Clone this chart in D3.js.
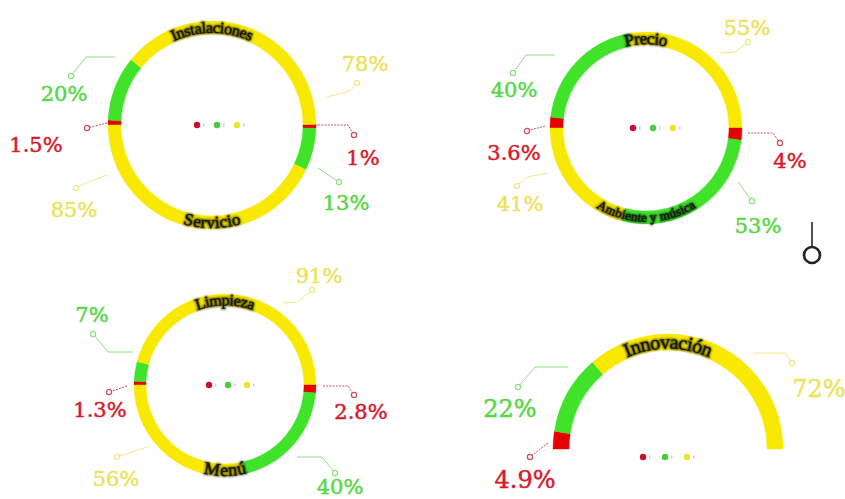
<!DOCTYPE html>
<html>
<head>
<meta charset="utf-8">
<script src="https://cdn.jsdelivr.net/npm/d3@7"></script>
<style>
  html, body { margin: 0; padding: 0; background: #ffffff; }
  svg { display: block; }
</style>
</head>
<body>
<svg id="chart" width="845" height="499"></svg>
<script>
// Aspectos evaluados y reparto de opiniones (%) por color
const aspectos = ["Instalaciones", "Servicio", "Precio", "Ambiente y música", "Limpieza", "Menú", "Innovación"];
const rojo     = [1.5, 1, 3.6, 4, 1.3, 2.8, 4.9];
const verde    = [20, 13, 40, 53, 7, 40, 22];
const amarillo = [78, 85, 55, 41, 91, 56, 72];
const series   = ["rojo", "verde", "amarillo"];

const ringColor   = { rojo: "#e60000", verde: "#40e22a", amarillo: "#f9e800" };
const labelColor  = { rojo: "#d81b2b", verde: "#57d846", amarillo: "#eee25c" };
const leaderColor = { rojo: "#d0505a", verde: "#90e082", amarillo: "#f0e88a" };
const legendColor = { rojo: "#c8102e", verde: "#46cc3e", amarillo: "#ece42c" };

// Each panel: a ring split in two half-gauges (top / bottom aspect)
const panels = [
  { cx: 212, cy: 125, r: 104, w: 13, top: 0, bottom: 1, legend: [-15, 0, 20] },
  { cx: 646, cy: 128, r: 96,  w: 13, top: 2, bottom: 3, legend: [-13, 0, 20] },
  { cx: 225, cy: 385, r: 91,  w: 12, top: 4, bottom: 5, legend: [-16, 0, 19] },
  { cx: 668, cy: 449, r: 115, w: 16, top: 6, bottom: null, legend: [-25, 8, 22] }
];

// Font size of the name written along each half ring
const nameSize = [16, 17, 17, 13, 16, 18, 20];
const pctSize  = [21, 21, 21, 21, 21, 21, 24];

// Leader layout per aspect, order rojo / verde / amarillo (offsets from ring centre)
const leaders = [
  [ { s: [-105, -2], m: [-125, 3], t: [-176, 27] },
    { s: [-97, -68], e: [-126, -68], m: [-141, -49], t: [-148, -24] },
    { s: [115, -28], e: [138, -34], m: [145, -42], t: [153, -54] } ],
  [ { s: [103, 0], e: [136, 0], m: [142, 10], t: [151, 40] },
    { s: [106, 43], m: [127, 57], t: [134, 85] },
    { s: [-105, 50], e: [-124, 57], m: [-136, 63], t: [-138, 92] } ],
  [ { s: [-101, -2], m: [-119, 3], t: [-132, 32] },
    { s: [-91, -73], e: [-120, -73], m: [-133, -55], t: [-132, -31] },
    { s: [74, -75], e: [89, -76], m: [102, -86], t: [101, -93] } ],
  [ { s: [102, 5], e: [127, 5], m: [134, 15], t: [144, 40] },
    { s: [92, 54], m: [106, 73], t: [112, 105] },
    { s: [-98, 45], e: [-119, 49], m: [-129, 58], t: [-126, 83] } ],
  [ { s: [-98, 1], m: [-116, 7], t: [-125, 32] },
    { s: [-92, -33], e: [-117, -33], m: [-132, -51], t: [-133, -63] },
    { s: [58, -82], e: [72, -83], m: [87, -95], t: [94, -102] } ],
  [ { s: [98, 1], e: [123, 1], m: [129, 10], t: [136, 34] },
    { s: [72, 72], e: [97, 72], m: [110, 88], t: [115, 109] },
    { s: [-78, 62], m: [-108, 72], t: [-109, 101] } ],
  [ { s: [-120, -6], m: [-138, 8], t: [-143, 39] },
    { s: [-100, -82], e: [-133, -82], m: [-150, -62], t: [-158, -32] },
    { s: [85, -96], e: [117, -96], m: [124, -86], t: [151, -52] } ]
];

const svg = d3.select("#chart");

const defs = svg.append("defs");
defs.append("filter").attr("id", "sombra")
  .attr("x", "-20%").attr("y", "-50%").attr("width", "140%").attr("height", "200%")
  .append("feGaussianBlur").attr("stdDeviation", 1.3);

const valuesOf = i => series.map((k, j) => ({ key: k, value: [rojo, verde, amarillo][j][i] }));

function drawHalf(g, p, idx, half) {
  const start = half === "top" ? -Math.PI / 2 : Math.PI / 2;
  const pie = d3.pie().sort(null).value(d => d.value)
    .startAngle(start).endAngle(start + Math.PI);
  const arc = d3.arc().innerRadius(p.r - p.w).outerRadius(p.r);
  const slices = pie(valuesOf(idx));

  g.selectAll(null).data(slices).enter().append("path")
    .attr("d", arc)
    .attr("fill", d => ringColor[d.data.key])
    .attr("stroke", d => ringColor[d.data.key])
    .attr("stroke-width", 0.4);

  // name along the middle of the ring
  const rm = p.r - p.w / 2;
  const pid = "camino-" + idx;
  const pathD = half === "top"
    ? `M ${-rm} 0 A ${rm} ${rm} 0 0 1 ${rm} 0`
    : `M ${-rm} 0 A ${rm} ${rm} 0 0 0 ${rm} 0`;
  g.append("path").attr("id", pid).attr("d", pathD).attr("fill", "none");

  const name = g.append("g")
    .style("font-family", "'Liberation Serif', 'DejaVu Serif', serif")
    .style("font-size", nameSize[idx] + "px");
  [true, false].forEach(shadow => {
    const t = name.append("text")
      .attr("dy", "0.33em")
      .attr("fill", shadow ? "#000" : "#141414");
    if (shadow) t.attr("stroke", "#000").attr("stroke-width", 1.8).attr("opacity", 0.6).attr("filter", "url(#sombra)");
    else t.attr("stroke", "#141414").attr("stroke-width", 0.3);
    t.append("textPath")
      .attr("href", "#" + pid)
      .attr("startOffset", "50%")
      .attr("text-anchor", "middle")
      .text(aspectos[idx]);
  });

  // percentage labels with leader lines
  const line = d3.line();
  slices.forEach((d, j) => {
    const L = leaders[idx][j];
    const pts = [L.s].concat(L.e ? [L.e] : []).concat([L.m]);
    g.append("path")
      .attr("d", line(pts))
      .attr("fill", "none")
      .attr("stroke", leaderColor[d.data.key])
      .attr("stroke-width", 1)
      .attr("stroke-dasharray", d.data.key === "rojo" ? "2,1.2" : null);
    g.append("circle")
      .attr("cx", L.m[0]).attr("cy", L.m[1]).attr("r", 2.6)
      .attr("fill", "#fff")
      .attr("stroke", leaderColor[d.data.key])
      .attr("stroke-width", 1.3);
    g.append("text")
      .attr("x", L.t[0]).attr("y", L.t[1])
      .attr("text-anchor", "middle")
      .style("font-family", "'DejaVu Serif', serif")
      .style("font-size", pctSize[idx] + "px")
      .attr("fill", labelColor[d.data.key])
      .attr("stroke", labelColor[d.data.key])
      .attr("stroke-width", 0.5)
      .text(d.data.value + "%");
  });
}

panels.forEach(p => {
  const g = svg.append("g").attr("transform", `translate(${p.cx},${p.cy})`);
  drawHalf(g, p, p.top, "top");
  if (p.bottom !== null) drawHalf(g, p, p.bottom, "bottom");

  // small colour key in the middle
  const [lx, ly, step] = p.legend;
  const key = g.append("g").attr("transform", `translate(${lx},${ly})`);
  series.forEach((k, j) => {
    key.append("circle").attr("cx", j * step).attr("cy", 0).attr("r", 3.2)
      .attr("fill", legendColor[k]);
    key.append("rect").attr("x", j * step + 6).attr("y", -1.5).attr("width", 1.5).attr("height", 3)
      .attr("fill", "#d8c8d8");
  });
});

// pin marker on the right edge
const pin = svg.append("g").attr("transform", "translate(812,0)");
pin.append("line").attr("x1", 0).attr("x2", 0).attr("y1", 222).attr("y2", 246)
  .attr("stroke", "#222").attr("stroke-width", 1.6);
pin.append("circle").attr("cx", 0).attr("cy", 255).attr("r", 8)
  .attr("fill", "none").attr("stroke", "#222").attr("stroke-width", 2.6);
</script>
</body>
</html>
